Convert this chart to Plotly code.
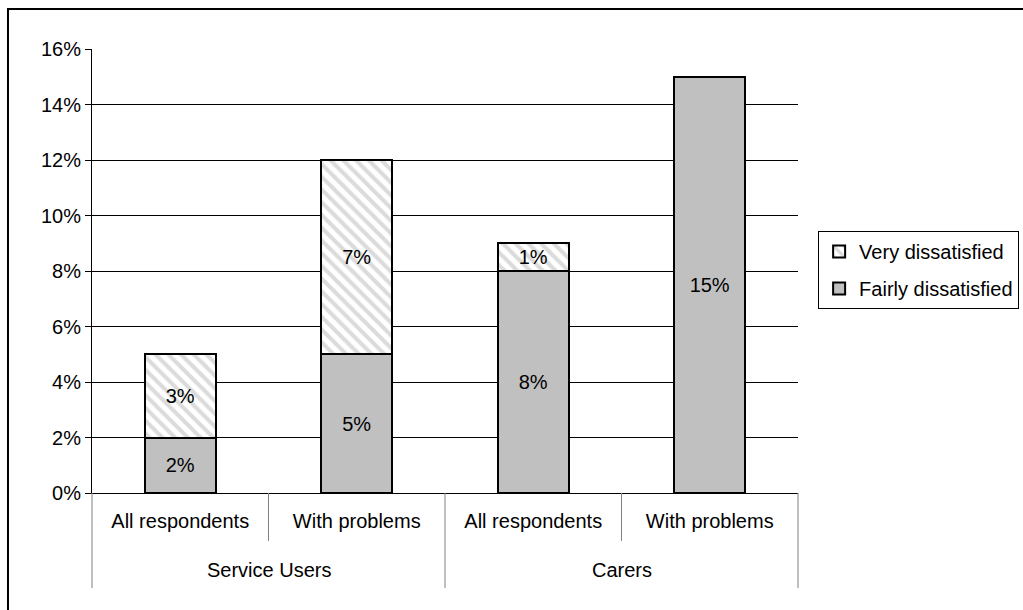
import plotly.graph_objects as go

groups = ["Service Users", "Service Users", "Carers", "Carers"]
subcats = ["All respondents", "With problems", "All respondents", "With problems"]
fairly = [0.02, 0.05, 0.08, 0.15]
very = [0.03, 0.07, 0.01, None]
fairly_txt = ["2%", "5%", "8%", "15%"]
very_txt = ["3%", "7%", "1%", ""]
group_names = ["Service Users", "Carers"]

keys = [g + " | " + s for g, s in zip(groups, subcats)]

FONT = "Liberation Sans, Arial, sans-serif"
fs = 20

fig = go.Figure()
fig.add_trace(go.Bar(
    x=keys, y=fairly, name="Fairly dissatisfied", legendgroup="f", legendrank=2,
    text=fairly_txt, textposition="inside", insidetextanchor="middle",
    textfont=dict(size=fs, color="black", family=FONT),
    marker=dict(color="#c0c0c0", line=dict(color="black", width=2)),
    width=0.4,
))
fig.add_trace(go.Bar(
    x=keys, y=very, name="Very dissatisfied", legendgroup="v", legendrank=1,
    text=very_txt, textposition="inside", insidetextanchor="middle",
    textfont=dict(size=fs, color="black", family=FONT),
    marker=dict(color="white", line=dict(color="black", width=2),
                pattern=dict(shape="\\", fgcolor="#b8b8b8", bgcolor="white",
                             size=9, solidity=0.45)),
    width=0.4,
))

fig.update_layout(
    width=1023, height=610,
    barmode="stack",
    plot_bgcolor="white", paper_bgcolor="white",
    margin=dict(l=92, r=225, t=49, b=117, autoexpand=False),
    font=dict(family=FONT, size=fs, color="black"),
    showlegend=True,
    legend=dict(x=1.0285, y=0.502, xanchor="left", yanchor="middle",
                traceorder="grouped", bordercolor="black", borderwidth=1,
                font=dict(size=fs), itemwidth=30, tracegroupgap=8),
    uniformtext=dict(minsize=fs, mode="show"),
)
fig.update_yaxes(
    range=[0, 0.16], dtick=0.02, tickformat=".0%",
    showgrid=True, gridcolor="black", gridwidth=1,
    showline=True, linecolor="black", linewidth=1,
    ticks="outside", ticklen=6, tickcolor="black",
    zeroline=False,
)
fig.update_xaxes(
    type="category", range=[-0.5, len(keys) - 0.5],
    tickvals=keys, ticktext=subcats, ticklabelstandoff=10,
    showline=True, linecolor="black", linewidth=1,
    ticks="", showgrid=False,
)

# group labels centred under each pair of categories
for gi, gname in enumerate(group_names):
    idx = [i for i, g in enumerate(groups) if g == gname]
    fig.add_annotation(x=sum(idx) / len(idx), y=-0.174, xref="x", yref="paper",
                       text=gname, showarrow=False,
                       font=dict(size=fs, family=FONT, color="black"),
                       xanchor="center", yanchor="middle")

# separators below the category axis
n = len(keys)
for i in range(n + 1):
    outer = (i == 0 or i == n or groups[i - 1] != groups[i])
    fig.add_shape(type="line", xref="x domain", yref="paper",
                  x0=i / n, x1=i / n, y0=0, y1=-0.214 if outer else -0.108,
                  line=dict(color="#808080", width=1))

fig.add_shape(type="rect", xref="paper", yref="paper",
              x0=-0.119, x1=1.33, y0=-0.29, y1=1.090,
              line=dict(color="black", width=2), fillcolor="rgba(0,0,0,0)")

fig.write_html("out.html", config={"displayModeBar": False})
with open("out.html", encoding="utf-8") as f:
    html = f.read()
html = html.replace("<body>", '<body style="margin:0;overflow:hidden">', 1)
with open("out.html", "w", encoding="utf-8") as f:
    f.write(html)
